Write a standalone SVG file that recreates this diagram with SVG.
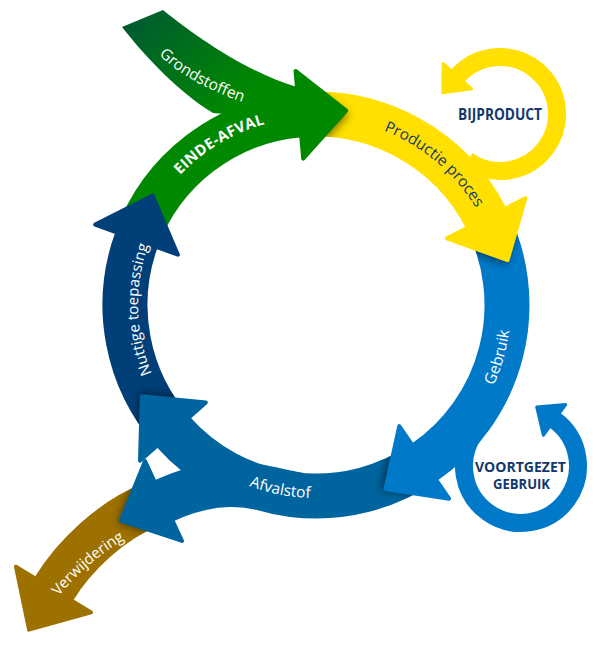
<svg xmlns="http://www.w3.org/2000/svg" width="600" height="646" viewBox="0 0 600 646">
<style>
.band{fill:none;stroke-width:45}
.loop{fill:none;stroke-width:18}
.head{stroke-width:4;stroke-linejoin:round}
.hs{stroke-width:3;stroke-linejoin:round}
.t{font-family:"Open Sans","Noto Sans","DejaVu Sans",sans-serif;font-size:15.5px;fill:#fff}
.tb{font-family:"Open Sans","Noto Sans","DejaVu Sans",sans-serif;font-weight:700;fill:#13386b}
.nv{fill:#163b6c}
.sh{fill:#000;opacity:.45;filter:url(#blur)}
.g{fill:#008800;stroke:#008800}
.y{fill:#ffe000;stroke:#ffe000}
.b{fill:#0079c8;stroke:#0079c8}
.a{fill:#00659f;stroke:#00659f}
.n{fill:#003f78;stroke:#003f78}
.v{fill:#9d7100;stroke:#9d7100}
</style>
<defs>
<filter id="blur" x="-40%" y="-40%" width="180%" height="180%"><feGaussianBlur stdDeviation="4"/></filter>
<linearGradient id="grGrad" gradientUnits="userSpaceOnUse" x1="140" y1="15" x2="235" y2="105">
<stop offset="0" stop-color="#005c2f"/><stop offset="1" stop-color="#008800"/>
</linearGradient>
<path id="aG" d="M 136.52,239.67 A 191 191 0 0 1 299.35,114.73"/>
<path id="aY" d="M 299.35,114.73 A 191 191 0 0 1 486.18,218.29"/>
<path id="aB" d="M 486.18,218.29 A 191 191 0 0 1 424.18,462.41"/>
<path id="aA" d="M 424.18,462.41 A 191 191 0 0 1 172.95,431.56"/>
<path id="aA2" d="M 299,495 C 262,489 227,471.7 163.5,501"/>
<path id="aN" d="M 172.95,431.56 A 191 191 0 0 1 136.52,239.67"/>
<path id="aV" d="M 150,505 C 112,520 74.3,555.3 53.5,589.5"/>
<path id="tEA" d="M 130.31,275.59 A 188 188 0 0 1 377.21,127.24"/>
<path id="tPP" d="M 283.53,120.84 A 187 187 0 0 1 503,305"/>
<path id="tGe" d="M 395.31,483.14 A 195 195 0 0 0 477.66,195.96"/>
<path id="tAf" d="M 147.2,398.57 A 193 193 0 0 0 437.46,454.99"/>
<path id="tNt" d="M 205.19,444.3 A 178 178 0 0 1 198.05,171.69"/>
<path id="tGr" d="M 145,38 C 168,72 215,96 275,112"/>
<path id="tVw" d="M 40,621 C 67,581 102,548 152,525"/>
<mask id="mY" maskUnits="userSpaceOnUse" x="0" y="0" width="600" height="646"><use href="#aY" fill="none" stroke="#fff" stroke-width="45"/></mask>
<mask id="mB" maskUnits="userSpaceOnUse" x="0" y="0" width="600" height="646"><use href="#aB" fill="none" stroke="#fff" stroke-width="45"/></mask>
<mask id="mA" maskUnits="userSpaceOnUse" x="0" y="0" width="600" height="646"><use href="#aA" fill="none" stroke="#fff" stroke-width="45"/></mask>
<mask id="mN" maskUnits="userSpaceOnUse" x="0" y="0" width="600" height="646"><use href="#aN" fill="none" stroke="#fff" stroke-width="45"/></mask>
<mask id="mV" maskUnits="userSpaceOnUse" x="0" y="0" width="600" height="646"><use href="#aV" fill="none" stroke="#fff" stroke-width="45"/></mask>
</defs>

<g id="verwijdering">
<use href="#aV" class="band" stroke="#9d7100"/>
</g>
<g id="afvalstof">
<use href="#aA2" class="band" stroke="#00659f"/>
<use href="#aA" class="band" stroke="#00659f"/>
</g>
<g id="nuttige-toepassing">
<use href="#aN" class="band" stroke="#003f78"/>
</g>
<g id="einde-afval">
<use href="#aG" class="band" stroke="#008800"/>
</g>
<g id="grondstoffen">
<path d="M 122,27 L 163,10 C 190,32 245,72 297,87 L 310,95 L 305,120 L 213,113 C 175,90 140,50 122,27 Z" fill="url(#grGrad)"/>
</g>
<g id="productie-proces">
<use href="#aY" class="band" stroke="#ffe000"/>
</g>
<g id="bijproduct">
<path class="loop" stroke="#ffe000" d="M 467.3,160.7 A 57 57 0 1 0 457.4,76.2"/>
</g>
<g id="gebruik">
<use href="#aB" class="band" stroke="#0079c8"/>
</g>
<g id="voortgezet-gebruik">
<path class="loop" stroke="#0079c8" d="M 474.3,433.3 A 57 57 0 1 0 554.5,419.9"/>
</g>

<g id="shadows">
<g mask="url(#mY)"><polygon class="sh" transform="translate(3,4)" points="295.51,70.9 346.17,110.63 303.19,158.56"/></g>
<g mask="url(#mB)"><polygon class="sh" transform="translate(-1,5)" points="525.38,198.31 507.52,260.17 446.98,238.27"/></g>
<g mask="url(#mA)"><polygon class="sh" transform="translate(-5,1)" points="449.1,498.67 385.45,489.03 399.26,426.15"/></g>
<g mask="url(#mN)"><polygon class="sh" transform="translate(-3,-4)" points="140,460.71 141.81,396.36 205.9,402.41"/></g>
<g mask="url(#mV)"><polygon class="sh" transform="translate(-4,2)" points="181.94,540.95 120.82,520.69 145.06,461.05"/></g>
</g>

<g id="connectors">
<polygon class="head g" points="295.51,70.9 346.17,110.63 303.19,158.56"/>
<polygon class="head y" points="525.38,198.31 507.52,260.17 446.98,238.27"/>
<polygon class="head b" points="449.1,498.67 385.45,489.03 399.26,426.15"/>
<polygon class="head a" points="140,460.71 141.81,396.36 205.9,402.41"/>
<polygon class="head n" points="95.17,224.62 152.6,195.51 177.87,254.72"/>
<polygon class="head a" points="181.94,540.95 120.82,520.69 145.06,461.05"/>
<polygon class="head v" points="91.08,612.38 29.06,629.64 15.92,566.62"/>
<polygon class="hs y" points="443.19,63.59 442.79,92.65 471.61,88.81"/>
<polygon class="hs b" points="565.67,404.53 536.7,406.97 543.33,435.27"/>
</g>

<g id="labels">
<text class="t" font-size="15.5"><textPath href="#tGr" startOffset="46%" text-anchor="middle">Grondstoffen</textPath></text>
<text class="t" style="font-weight:700;font-size:15px;letter-spacing:0.3px"><textPath href="#tEA" startOffset="50%" text-anchor="middle">EINDE-AFVAL</textPath></text>
<text class="t nv"><textPath href="#tPP" startOffset="50%" text-anchor="middle">Productie proces</textPath></text>
<text class="t"><textPath href="#tGe" startOffset="50%" text-anchor="middle">Gebruik</textPath></text>
<text class="t"><textPath href="#tAf" startOffset="50%" text-anchor="middle">Afvalstof</textPath></text>
<text class="t" style="font-size:15px"><textPath href="#tNt" startOffset="50%" text-anchor="middle">Nuttige toepassing</textPath></text>
<text class="t" style="font-size:15px"><textPath href="#tVw" startOffset="50%" text-anchor="middle">Verwijdering</textPath></text>
<text class="tb" x="500" y="120" font-size="15.5" text-anchor="middle" textLength="84" lengthAdjust="spacingAndGlyphs">BIJPRODUCT</text>
<text class="tb" x="520.5" y="472.3" font-size="15" text-anchor="middle" textLength="91" lengthAdjust="spacingAndGlyphs">VOORTGEZET</text>
<text class="tb" x="521.5" y="489.3" font-size="15" text-anchor="middle" textLength="57" lengthAdjust="spacingAndGlyphs">GEBRUIK</text>
</g>
</svg>
